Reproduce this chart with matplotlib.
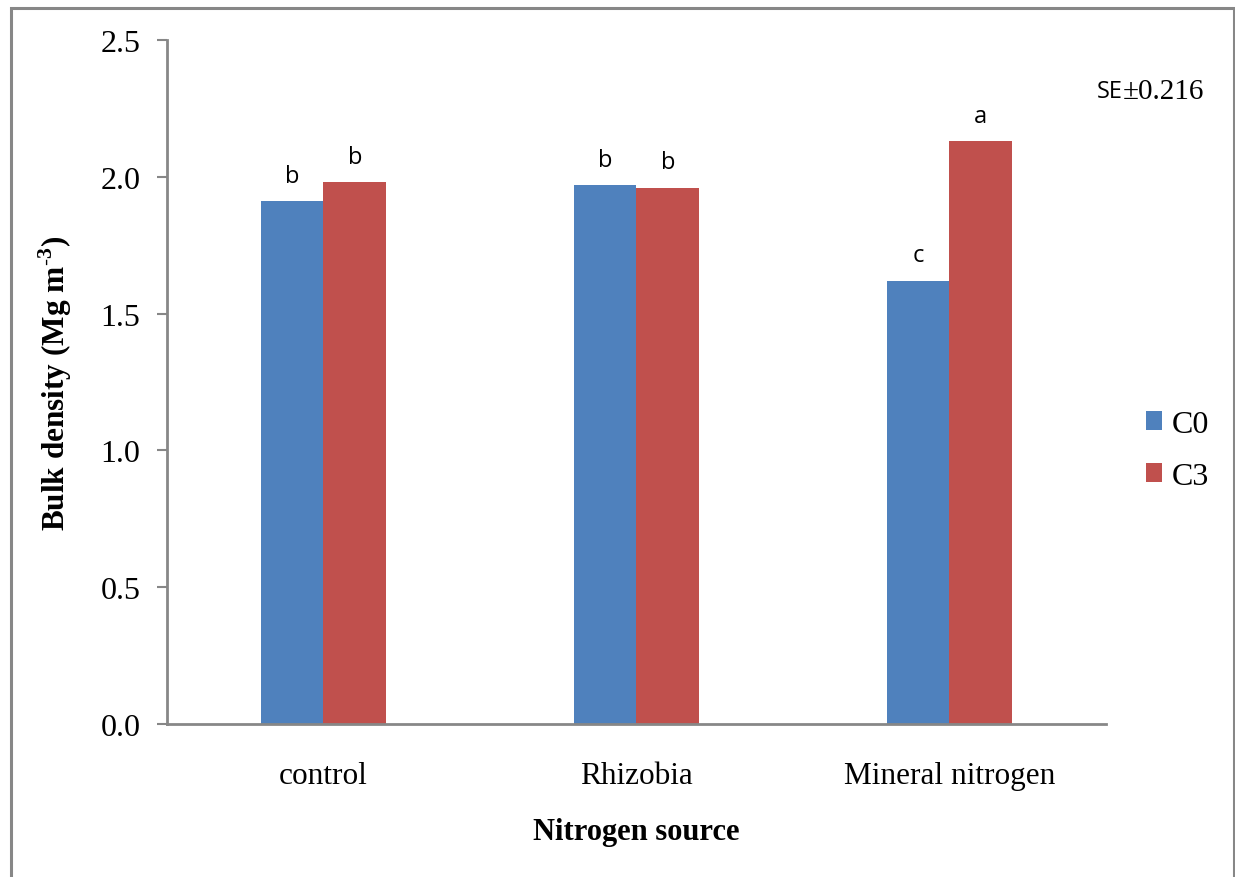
#!/usr/bin/env python3

import numpy as np
import matplotlib.pyplot as plt
from matplotlib.patches import Rectangle

# Data
sources = ["control", "Rhizobia", "Mineral nitrogen"]
c0_values = [1.91, 1.97, 1.62]
c3_values = [1.98, 1.96, 2.13]
c0_letters = ["b", "b", "c"]
c3_letters = ["b", "b", "a"]
y_ticks = [0.0, 0.5, 1.0, 1.5, 2.0, 2.5]

SERIF = "Liberation Serif"
SANS = "Open Sans"
BLUE = "#4F81BD"
RED = "#C0504D"
GREY = "#878787"

plt.rcParams["mathtext.fontset"] = "custom"
plt.rcParams["mathtext.rm"] = "Liberation Serif:bold"
plt.rcParams["mathtext.bf"] = "Liberation Serif:bold"


def main():
    fig = plt.figure(figsize=(12.35, 8.78), dpi=100)
    ax = fig.add_axes([0.1352, 0.1743, 0.7603, 0.7790])

    # Outer frame (cut off at bottom like the source)
    fig.patches.append(Rectangle((10.5 / 1235, -0.05), (1233.5 - 10.5) / 1235,
                                 1.05 - 8.5 / 878, transform=fig.transFigure,
                                 fill=False, edgecolor=GREY, linewidth=2.2))

    x = np.arange(len(sources))
    width = 0.2
    bars0 = ax.bar(x - width / 2, c0_values, width, color=BLUE, label="C0")
    bars1 = ax.bar(x + width / 2, c3_values, width, color=RED, label="C3")

    # Significance letters
    for bars, letters in ((bars0, c0_letters), (bars1, c3_letters)):
        for b, letter in zip(bars, letters):
            ax.annotate(letter, (b.get_x() + b.get_width() / 2, b.get_height()),
                        xytext=(0, 14), textcoords="offset points",
                        ha="center", va="baseline", fontsize=17, family=SANS)

    ax.set_xlim(-0.5, len(sources) - 0.5)
    ax.set_ylim(0, 2.5)
    ax.set_yticks(y_ticks)
    ax.set_yticklabels([f"{v:.1f}" for v in y_ticks], family=SERIF, fontsize=23)
    ax.set_xticks(x)
    ax.set_xticklabels(sources, family=SERIF, fontsize=22.5)

    ax.tick_params(axis="x", length=0, pad=27)
    ax.tick_params(axis="y", length=7, width=1.5, color=GREY, pad=12)

    for side in ("top", "right"):
        ax.spines[side].set_visible(False)
    for side in ("left", "bottom"):
        ax.spines[side].set_color(GREY)
        ax.spines[side].set_linewidth(2)

    ax.set_xlabel("Nitrogen source", family=SERIF, fontsize=22,
                  fontweight="bold", labelpad=19)
    ax.set_ylabel("Bulk density (Mg m$^{\u2011 3}$)", family=SERIF,
                  fontsize=22.5, fontweight="bold", labelpad=19)

    fig.text(1097 / 1235, 1 - 92 / 878, "SE", family=SANS, fontsize=17,
             va="center", ha="left")
    fig.text(1123 / 1235, 1 - 92 / 878, "\u00b10.216", family=SERIF,
             fontsize=21, va="center", ha="left")

    ax.legend(loc="center left", bbox_to_anchor=(1.012, 0.40),
              frameon=False, prop={"family": SERIF, "size": 23},
              handlelength=0.5, handleheight=0.5, handletextpad=0.3,
              labelspacing=0.72)

    fig.savefig("out.png", dpi=100)


if __name__ == "__main__":
    main()
